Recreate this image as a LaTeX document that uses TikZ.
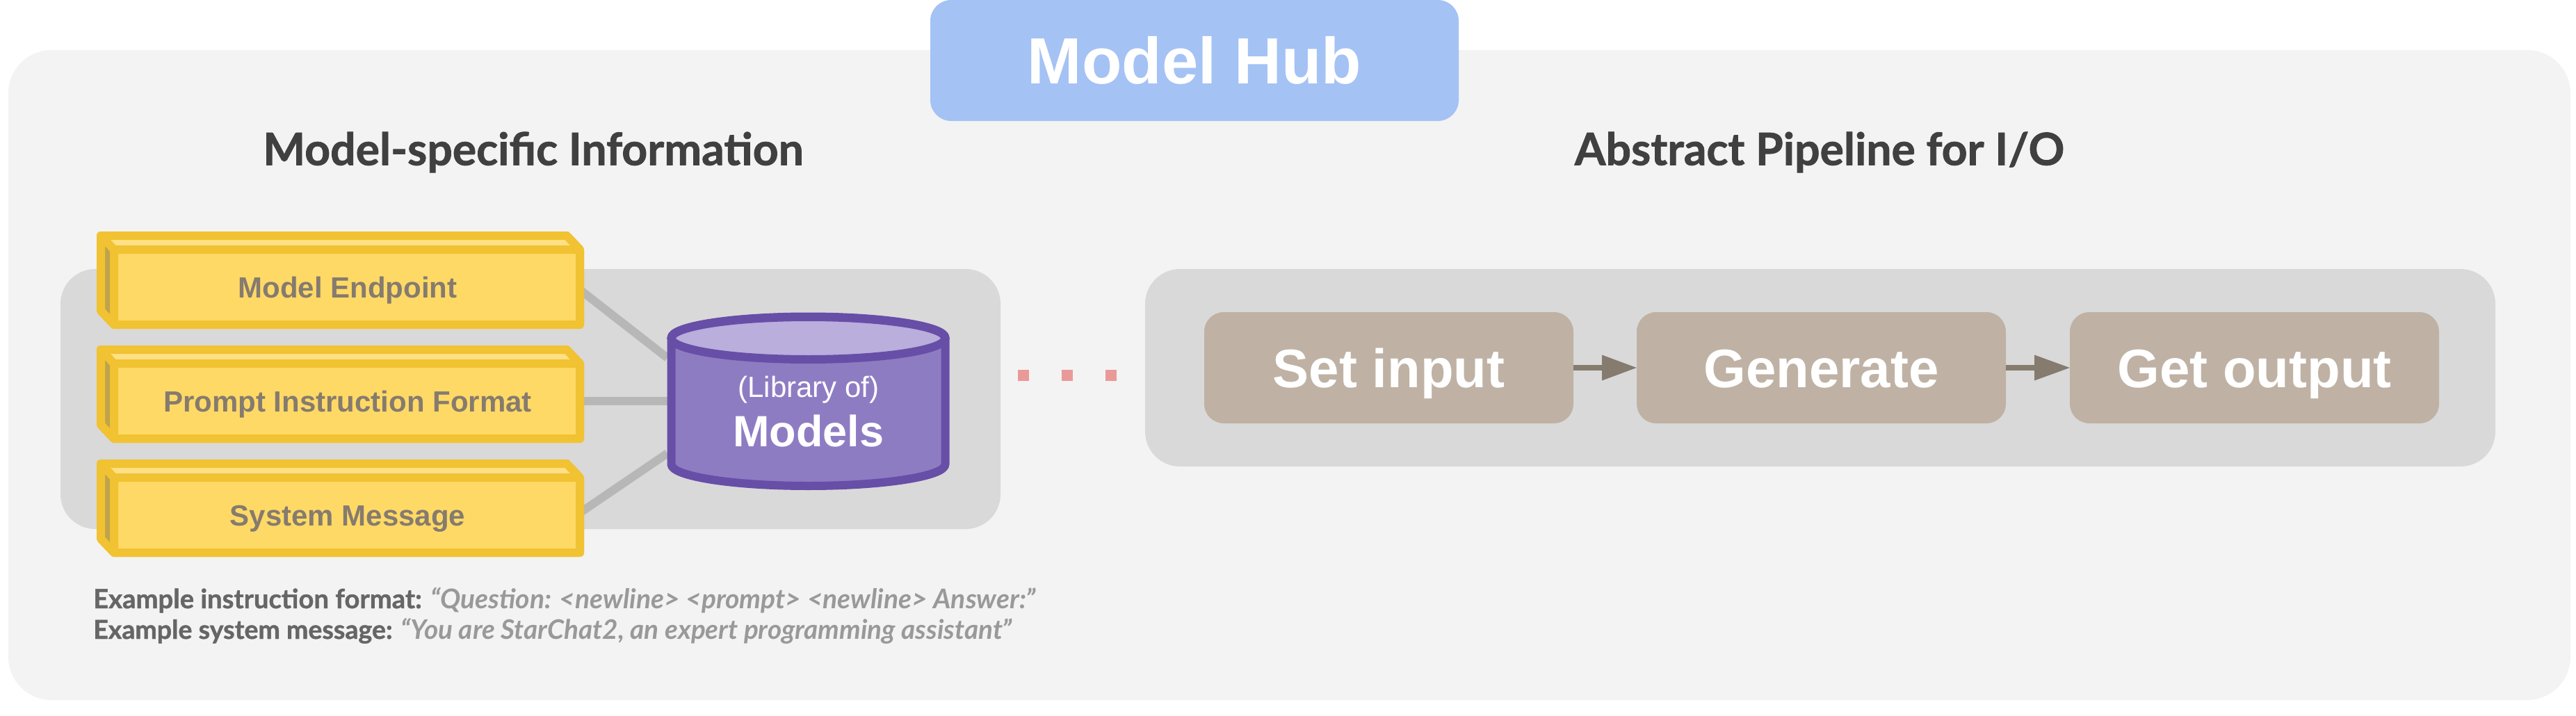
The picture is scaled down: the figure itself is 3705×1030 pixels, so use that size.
\documentclass[tikz,border=0pt]{standalone}
\usepackage{fontspec}
\setmainfont{Liberation Sans}
\newfontfamily\latofont[BoldFeatures={FakeBold=1.2}]{Lato}
\pgfdeclarelayer{panels}
\pgfdeclarelayer{links}
\pgfsetlayers{panels,links,main}
\definecolor{panelout}{HTML}{F3F3F3}
\definecolor{panelin}{HTML}{D9D9D9}
\definecolor{hubblue}{HTML}{A4C2F4}
\definecolor{yfront}{HTML}{FFD966}
\definecolor{ytop}{HTML}{FFE085}
\definecolor{yside}{HTML}{BFA44D}
\definecolor{ystroke}{HTML}{F1C232}
\definecolor{ytext}{HTML}{857B6E}
\definecolor{tanbox}{HTML}{BFB2A5}
\definecolor{linkgray}{HTML}{B7B7B7}
\definecolor{dbfill}{HTML}{8E7CC3}
\definecolor{dbtop}{HTML}{B9AEDC}
\definecolor{dbstroke}{HTML}{674EA7}
\definecolor{dotpink}{HTML}{EA9999}
\tikzset{
  x=1pt,y=-1pt,
  innerpanel/.style={fill=panelin,rounded corners=50pt},
  yellowface/.style={minimum width=658pt,minimum height=96pt,inner sep=0pt,
    text=ytext,font=\fontsize{42}{48}\selectfont\bfseries,text height=30pt,text depth=0pt},
  tanstep/.style={fill=tanbox,rounded corners=28pt,minimum width=531pt,minimum height=160pt,inner sep=0pt,
    text=white,font=\fontsize{78}{84}\selectfont\bfseries,text height=56pt,text depth=0pt},
  linkline/.style={draw=linkgray,line width=12pt},
  flow/.style={draw=ytext,line width=8pt},
  flowhead/.style={fill=ytext},
  header/.style={text=black!75,font=\latofont\fontsize{64.3}{70}\selectfont\bfseries,inner sep=0pt},
  notebold/.style={text=black!60,font=\latofont\bfseries,inner sep=0pt,anchor=base west},
}
\newcommand{\yellowbar}[3]{%
  \begin{scope}[yshift=-#1pt]
    \filldraw[draw=ystroke,line width=12pt,line join=round,fill=yfront]
      (145,339)--(815,339)--(834,359)--(834,467)--(164,467)--(145,447)--cycle;
    \fill[ytop] (145,339)--(815,339)--(834,359)--(164,359)--cycle;
    \fill[yside] (145,339)--(164,359)--(164,467)--(145,447)--cycle;
    \draw[draw=ystroke,line width=12pt,line join=round]
      (145,339)--(815,339)--(834,359)--(834,467)--(164,467)--(145,447)--cycle;
    \draw[draw=ystroke,line width=12pt,line join=round] (145,339)--(164,359)--(834,359) (164,359)--(164,467);
  \end{scope}
  \node[yellowface] (#2) at (500,413+#1) {#3};
}
\begin{document}
\begin{tikzpicture}
\useasboundingbox (0,0) rectangle (3705,1030);
\begin{pgfonlayer}{panels}
  \fill[white] (0,0) rectangle (3705,1030);
  \fill[panelout,rounded corners=62pt] (12,72) rectangle (3697,1007);
  \fill[innerpanel] (87,387) rectangle (1439,761);
  \fill[innerpanel] (1647,387) rectangle (3589,671);
\end{pgfonlayer}

\node[fill=hubblue,rounded corners=30pt,minimum width=760pt,minimum height=174pt,inner sep=0pt,text=white,
  font=\fontsize{94}{100}\selectfont\bfseries,text height=67pt,text depth=0pt] (hub) at (1718,87) {Model Hub};

\node[header] (hleft) at (767,219) {Model-specific Information};
\node[header] (hright) at (2617,219) {Abstract Pipeline for I/O};

\yellowbar{0}{endpoint}{Model Endpoint}
\yellowbar{164}{format}{Prompt Instruction Format}
\yellowbar{328}{sysmsg}{System Message}

% cylinder
\filldraw[draw=dbstroke,line width=12pt,line join=round,fill=dbfill]
  (965.5,486) -- (965.5,668) arc[start angle=180,end angle=0,x radius=197,y radius=31]
  -- (1359.5,486) arc[start angle=0,end angle=-180,x radius=197,y radius=30.5] -- cycle;
\filldraw[draw=dbstroke,line width=12pt,fill=dbtop] (1162.5,486.5) ellipse[x radius=197,y radius=30.5];
\node[minimum width=405pt,minimum height=137pt,inner sep=0pt] (db) at (1162.5,583.5) {};
\node[anchor=base,inner sep=0pt,text=white,font=\fontsize{42}{46}\selectfont] (dblib) at (1163,571) {(Library of)};
\node[anchor=base,inner sep=0pt,text=white,font=\fontsize{63}{68}\selectfont\bfseries] (dbmodels) at (1163,642) {Models};

\begin{pgfonlayer}{links}
  \draw[linkline] (endpoint.east) -- (db.north west);
  \draw[linkline] (format.east) -- (format.east -| db.west);
  \draw[linkline] (sysmsg.east) -- (db.south west);
\end{pgfonlayer}

% dots
\coordinate (dotsa) at (1464,540);
\coordinate (dotsb) at (1606,540);
\draw[draw=dotpink,line width=16pt,dash pattern=on 16pt off 47pt] (dotsa) -- (dotsb);

% pipeline
\node[tanstep] (setinput) at (1997.5,529) {Set input};
\node[tanstep] (generate) at (2619.5,529) {Generate};
\node[tanstep] (getoutput) at (3242.5,529) {Get output};
\coordinate (ha) at (2304,529);
\coordinate (hb) at (2926,529);
\draw[flow] (setinput.east) -- (ha);
\fill[flowhead] (ha) ++(0,-18.5) -- (generate.west) -- (2304,547.5) -- cycle;
\draw[flow] (generate.east) -- (hb);
\fill[flowhead] (hb) ++(0,-18.5) -- (getoutput.west) -- (2926,547.5) -- cycle;

% notes
\node[notebold] (noteone) at (134,875) {\fontsize{38.2}{42}\selectfont Example instruction format: \fontsize{39}{42}\selectfont\textcolor{black!40}{\itshape “Question: <newline> <prompt> <newline> Answer:”}};
\node[notebold] (notetwo) at (134,919) {\fontsize{37.5}{42}\selectfont Example system message: \fontsize{38.7}{42}\selectfont\textcolor{black!40}{\itshape “You are StarChat2, an expert programming assistant”}};
\end{tikzpicture}
\end{document}
